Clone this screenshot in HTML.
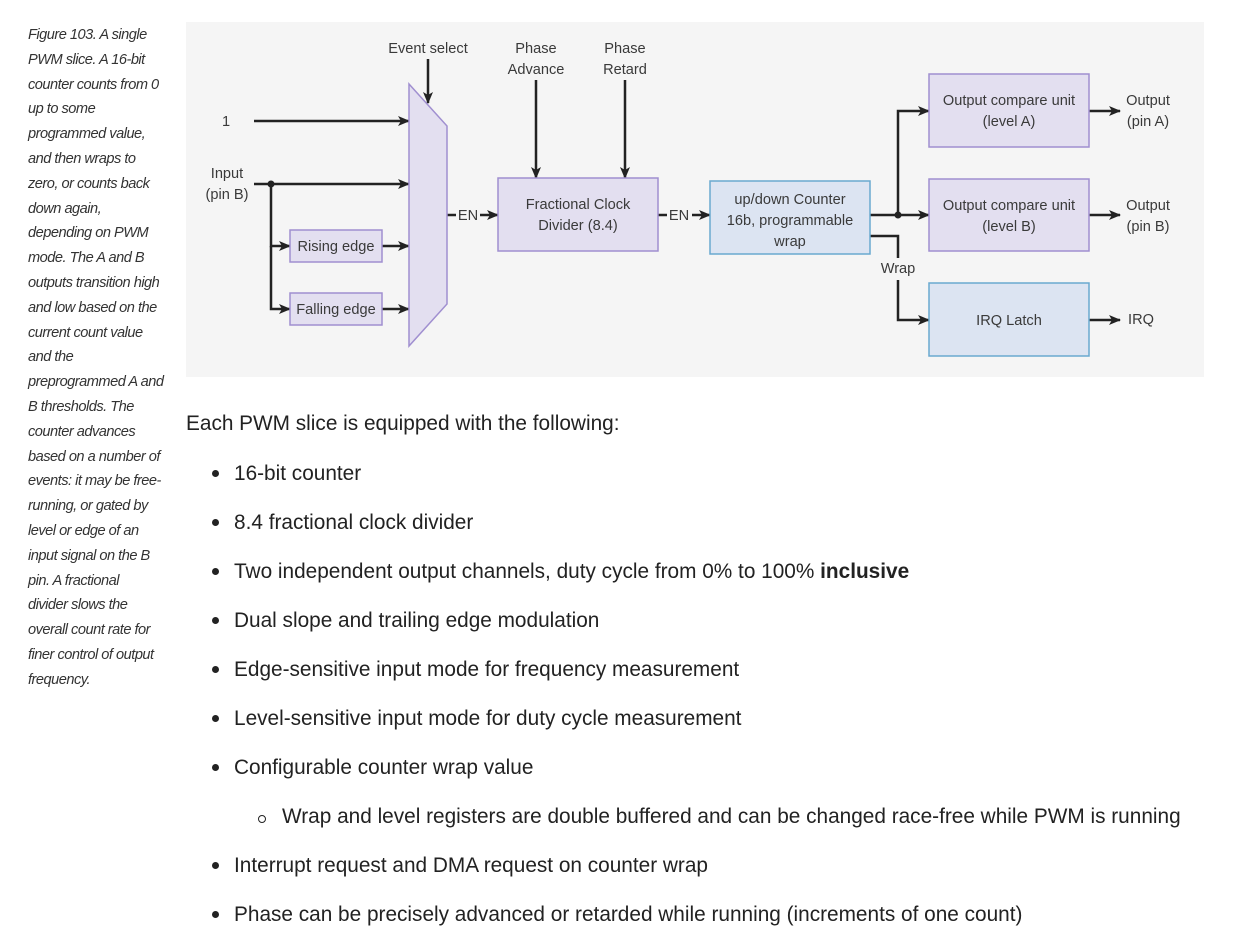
<!DOCTYPE html>
<html><head><meta charset="utf-8"><style>
body{margin:0;width:1234px;height:944px;background:#fff;position:relative;overflow:hidden;font-family:"Liberation Sans",sans-serif;color:#212121}
.cap{position:absolute;left:28px;top:23px;font-style:italic;font-size:14.6px;line-height:24.8px;color:#333;letter-spacing:-0.5px;white-space:nowrap}
.t{position:absolute;font-size:20.8px;white-space:nowrap;color:#222}
.b{position:absolute;width:7px;height:7px;border-radius:50%;background:#222}
.c{position:absolute;width:6px;height:6px;border-radius:50%;border:1.3px solid #222}
svg text{font-family:"Liberation Sans",sans-serif;font-size:14.6px;fill:#3a3a3a;text-anchor:middle}
</style></head><body>
<div class="cap">Figure 103. A single<br>PWM slice. A 16-bit<br>counter counts from 0<br>up to some<br>programmed value,<br>and then wraps to<br>zero, or counts back<br>down again,<br>depending on PWM<br>mode. The A and B<br>outputs transition high<br>and low based on the<br>current count value<br>and the<br>preprogrammed A and<br>B thresholds. The<br>counter advances<br>based on a number of<br>events: it may be free-<br>running, or gated by<br>level or edge of an<br>input signal on the B<br>pin. A fractional<br>divider slows the<br>overall count rate for<br>finer control of output<br>frequency.</div>
<svg style="position:absolute;left:0;top:0" width="1234" height="400">
<defs><marker id="a" markerWidth="12" markerHeight="10" refX="11" refY="5" orient="auto" markerUnits="userSpaceOnUse"><path d="M0,0 L12,5 L0,10 L3,5z" fill="#222"/></marker></defs>
<rect x="186" y="22" width="1018" height="355" fill="#f5f5f5"/>
<g stroke="#222" stroke-width="2.5" fill="none" marker-end="url(#a)">
<line x1="254" y1="121" x2="409" y2="121"/>
<line x1="254" y1="184" x2="409" y2="184"/>
<polyline points="271,184 271,246 290,246"/>
<polyline points="271,246 271,309 290,309"/>
<line x1="382" y1="246" x2="409" y2="246"/>
<line x1="382" y1="309" x2="409" y2="309"/>
<line x1="428" y1="59" x2="428" y2="103"/>
<line x1="536" y1="80" x2="536" y2="178"/>
<line x1="625" y1="80" x2="625" y2="178"/>
<line x1="480" y1="215" x2="498" y2="215"/>
<line x1="692" y1="215" x2="710" y2="215"/>
<polyline points="870,215 898,215 898,111 929,111"/>
<line x1="898" y1="215" x2="929" y2="215"/>
<polyline points="898,280 898,320 929,320"/>
<line x1="1089" y1="111" x2="1120" y2="111"/>
<line x1="1089" y1="215" x2="1120" y2="215"/>
<line x1="1089" y1="320" x2="1120" y2="320"/>
</g>
<g stroke="#222" stroke-width="2.5" fill="none">
<line x1="447" y1="215" x2="456" y2="215"/>
<line x1="658" y1="215" x2="667" y2="215"/>
<polyline points="870,236 898,236 898,258"/>
</g>
<circle cx="271" cy="184" r="3.5" fill="#222"/>
<circle cx="898" cy="215" r="3.5" fill="#222"/>
<g fill="#e3dff0" stroke="#a08fd0" stroke-width="1.5">
<polygon points="409,84 447,126 447,304 409,346"/>
<rect x="290" y="230" width="92" height="32"/>
<rect x="290" y="293" width="92" height="32"/>
<rect x="498" y="178" width="160" height="73"/>
<rect x="929" y="74" width="160" height="73"/>
<rect x="929" y="179" width="160" height="72"/>
</g>
<g fill="#dce4f2" stroke="#6aa9d0" stroke-width="1.5">
<rect x="710" y="181" width="160" height="73"/>
<rect x="929" y="283" width="160" height="73"/>
</g>
<text x="226" y="126">1</text>
<text x="227" y="178">Input</text><text x="227" y="199">(pin B)</text>
<text x="336" y="251">Rising edge</text>
<text x="336" y="314">Falling edge</text>
<text x="428" y="53">Event select</text>
<text x="536" y="53">Phase</text><text x="536" y="74">Advance</text>
<text x="625" y="53">Phase</text><text x="625" y="74">Retard</text>
<text x="468" y="220">EN</text><text x="679" y="220">EN</text>
<text x="578" y="209">Fractional Clock</text><text x="578" y="230">Divider (8.4)</text>
<text x="790" y="204">up/down Counter</text><text x="790" y="225">16b, programmable</text><text x="790" y="246">wrap</text>
<text x="898" y="273">Wrap</text>
<text x="1009" y="105">Output compare unit</text><text x="1009" y="126">(level A)</text>
<text x="1009" y="210">Output compare unit</text><text x="1009" y="231">(level B)</text>
<text x="1009" y="325">IRQ Latch</text>
<text x="1148" y="105">Output</text><text x="1148" y="126">(pin A)</text>
<text x="1148" y="210">Output</text><text x="1148" y="231">(pin B)</text>
<text x="1141" y="324">IRQ</text>
</svg>
<div class="t" style="left:186px;top:412px">Each PWM slice is equipped with the following:</div>
<div class="b" style="left:212px;top:470px"></div><div class="t" style="left:234px;top:462px">16-bit counter</div>
<div class="b" style="left:212px;top:519px"></div><div class="t" style="left:234px;top:511px">8.4 fractional clock divider</div>
<div class="b" style="left:212px;top:568px"></div><div class="t" style="left:234px;top:560px">Two independent output channels, duty cycle from 0% to 100% <b>inclusive</b></div>
<div class="b" style="left:212px;top:617px"></div><div class="t" style="left:234px;top:609px">Dual slope and trailing edge modulation</div>
<div class="b" style="left:212px;top:666px"></div><div class="t" style="left:234px;top:658px">Edge-sensitive input mode for frequency measurement</div>
<div class="b" style="left:212px;top:715px"></div><div class="t" style="left:234px;top:707px">Level-sensitive input mode for duty cycle measurement</div>
<div class="b" style="left:212px;top:764px"></div><div class="t" style="left:234px;top:756px">Configurable counter wrap value</div>
<div class="c" style="left:258px;top:815px"></div><div class="t" style="left:282px;top:805px">Wrap and level registers are double buffered and can be changed race-free while PWM is running</div>
<div class="b" style="left:212px;top:862px"></div><div class="t" style="left:234px;top:854px">Interrupt request and DMA request on counter wrap</div>
<div class="b" style="left:212px;top:911px"></div><div class="t" style="left:234px;top:903px">Phase can be precisely advanced or retarded while running (increments of one count)</div>
</body></html>
